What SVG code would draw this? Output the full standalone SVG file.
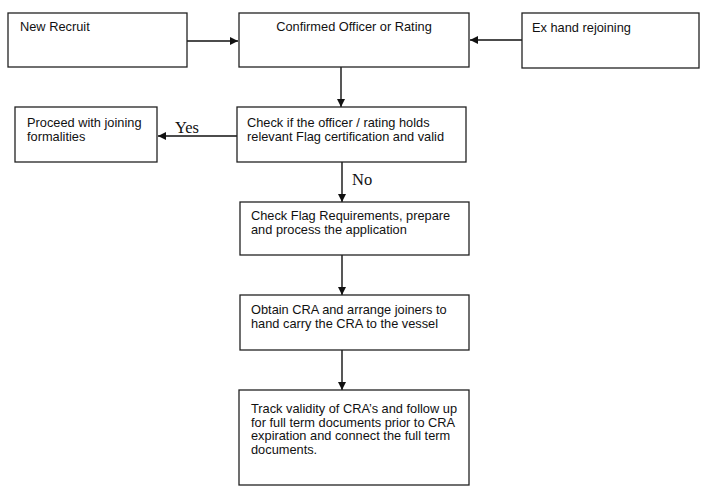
<svg xmlns="http://www.w3.org/2000/svg" width="705" height="495" viewBox="0 0 705 495">
<style>
.box{fill:#fff;stroke:#222;stroke-width:1.3}
.t{font-family:"Liberation Sans",Arial,sans-serif;font-size:12.8px;fill:#111}
.lbl{font-family:"Liberation Serif","Times New Roman",serif;font-size:16.5px;fill:#111}
.c{stroke:#111;stroke-width:1.4;fill:none;marker-end:url(#ah)}
</style>
<defs>
<marker id="ah" viewBox="0 0 10 10" refX="10" refY="5" markerWidth="8" markerHeight="8" markerUnits="userSpaceOnUse" orient="auto">
<path d="M0,0 L10,5 L0,10 Z" fill="#111"/>
</marker>
</defs>
<rect width="705" height="495" fill="#fff"/>
<g id="connectors">
<line class="c" x1="187" y1="41" x2="238" y2="41"/>
<line class="c" x1="522" y1="40" x2="470" y2="40"/>
<line class="c" x1="341" y1="67" x2="341" y2="107"/>
<line class="c" x1="237" y1="136" x2="158" y2="136"/>
<text class="lbl" x="175" y="133">Yes</text>
<line class="c" x1="342" y1="162" x2="342" y2="202"/>
<text class="lbl" x="352" y="185">No</text>
<line class="c" x1="342" y1="255" x2="342" y2="295"/>
<line class="c" x1="342" y1="350" x2="342" y2="390"/>
</g>
<g id="new-recruit">
<rect class="box" x="8" y="13" width="179" height="54"/>
<text class="t" x="20" y="31">New Recruit</text>
</g>
<g id="confirmed">
<rect class="box" x="239" y="13" width="230" height="54"/>
<text class="t" x="354" y="31" text-anchor="middle">Confirmed Officer or Rating</text>
</g>
<g id="ex-hand">
<rect class="box" x="522" y="13" width="177" height="55"/>
<text class="t" x="532" y="32">Ex hand rejoining</text>
</g>
<g id="proceed">
<rect class="box" x="15" y="107" width="142" height="55"/>
<text class="t" x="27" y="127">Proceed with joining</text>
<text class="t" x="27" y="141">formalities</text>
</g>
<g id="check">
<rect class="box" x="237" y="107" width="229" height="55"/>
<text class="t" x="247" y="127">Check if the officer / rating holds</text>
<text class="t" x="247" y="141">relevant Flag certification and valid</text>
</g>
<g id="check-flag">
<rect class="box" x="240" y="202" width="229" height="53"/>
<text class="t" x="251" y="220">Check Flag Requirements, prepare</text>
<text class="t" x="251" y="234">and process the application</text>
</g>
<g id="obtain">
<rect class="box" x="240" y="295" width="229" height="55"/>
<text class="t" x="251" y="314">Obtain CRA and arrange joiners to</text>
<text class="t" x="251" y="328">hand carry the CRA to the vessel</text>
</g>
<g id="track">
<rect class="box" x="239" y="390" width="230" height="95"/>
<text class="t" x="251" y="413">Track validity of CRA’s and follow up</text>
<text class="t" x="251" y="426.5">for full term documents prior to CRA</text>
<text class="t" x="251" y="440">expiration and connect the full term</text>
<text class="t" x="251" y="453.5">documents.</text>
</g>
</svg>
